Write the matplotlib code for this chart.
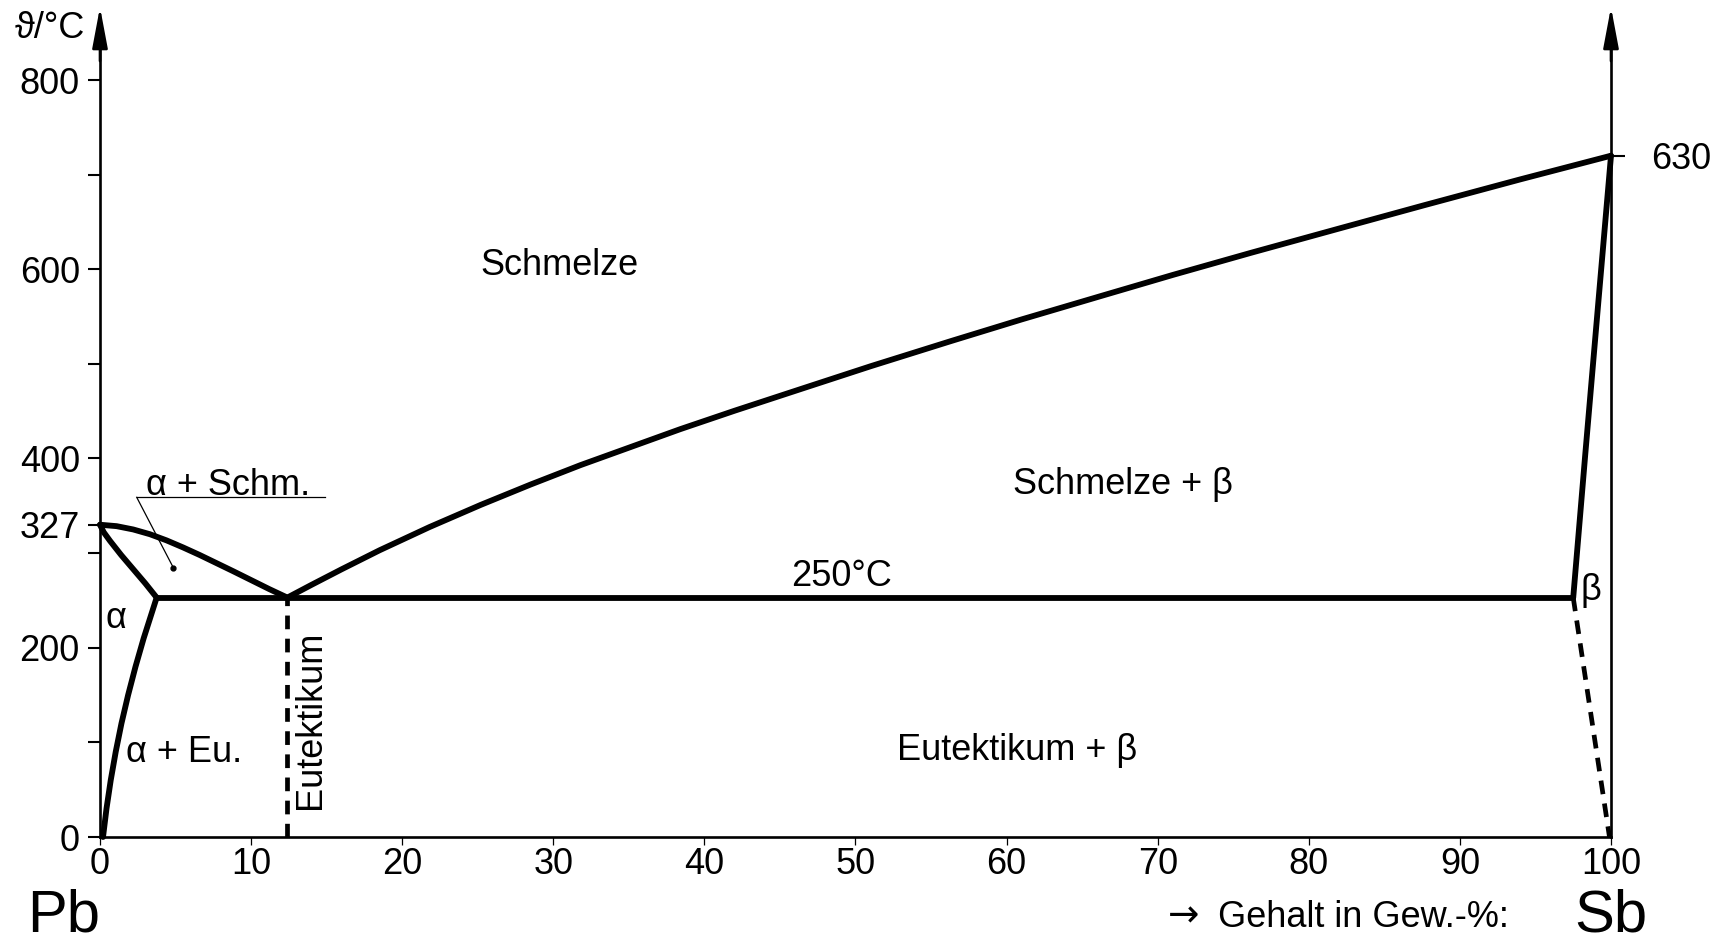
import matplotlib
matplotlib.use('Agg')
import matplotlib.pyplot as plt

plt.rcParams['font.family'] = ['Liberation Sans', 'DejaVu Sans']

# Zustandsdiagramm Pb-Sb (Temperaturskala wie im Bild, nicht massstaeblich)
x_ticks = [0, 10, 20, 30, 40, 50, 60, 70, 80, 90, 100]
y_ticks = [0, 200, 330, 400, 600, 800]
y_ticklabels = ['0', '200', '327', '400', '600', '800']
y_minor = [100, 300, 500, 700]
sb_tick = [720]
sb_ticklabel = ['630']

x_eut = 12.4
t_eut = 253

# Liquidus Pb-Seite
liq_pb_x = [0, 1.1, 2.2, 3.3, 4.4, 5.5, 6.6, 7.7, 8.8, 10, 11.2, 12.4]
liq_pb_y = [330, 328.5, 325, 320, 313.5, 306, 298, 289.5, 281, 271.5, 262, 253]
# Solidus alpha
sol_a_x = [0, 0.25, 0.66, 1.4, 2.2, 3.0, 3.75]
sol_a_y = [330, 322, 313, 298, 283, 268, 253]
# Loeslichkeitslinie alpha
solv_a_x = [3.75, 3.49, 2.89, 2.35, 1.86, 1.42, 1.04, 0.71, 0.43, 0.2]
solv_a_y = [253, 240, 210, 180, 150, 120, 90, 60, 30, 0]
# Liquidus Sb-Seite
liq_sb_x = [12.4, 14, 16, 18.5, 21.8, 25.2, 28.5, 31.8, 35.1, 38.4, 42, 46.3,
            51, 56.3, 61, 66.2, 71, 76.2, 82, 87.6, 94, 100]
liq_sb_y = [253, 266.5, 283, 303, 327.5, 351, 372.5, 393, 412, 431, 450.5, 473,
            497.5, 524, 547, 571.5, 594, 617.5, 643, 667.5, 695, 720]
# Solidus beta
sol_b_x = [97.5, 98.3, 99.15, 100]
sol_b_y = [253, 405, 563, 720]
# Loeslichkeitslinie beta (gestrichelt)
solv_b_x = [97.5, 99.9]
solv_b_y = [253, 0]
# Eutektikale
eut_x = [3.75, 97.5]
eut_y = [t_eut, t_eut]

px_x = 15.11
px_y = 0.94625
fig = plt.figure(figsize=(17.29, 9.38), dpi=100)
ax = fig.add_axes([0, 0, 1, 1])
ax.set_xlim(-100 / px_x, (1729 - 100) / px_x)
ax.set_ylim(-(938 - 837) / px_y, 837 / px_y)

ax.spines['top'].set_visible(False)
for s, pos, b in [('left', 0, (0, 860)), ('right', 100, (0, 860)), ('bottom', 0, (0, 100))]:
    ax.spines[s].set_position(('data', pos))
    ax.spines[s].set_bounds(*b)
    ax.spines[s].set_linewidth(1.9)

ax.set_xticks(x_ticks)
ax.set_yticks(y_ticks, y_ticklabels)
ax.set_yticks(y_minor, minor=True)
ax.tick_params(axis='y', which='both', direction='out', length=8.5, width=1.5, labelsize=26, pad=6)
ax.tick_params(axis='x', direction='out', length=6, width=0.9, labelsize=26, pad=1)

xl = ax.get_xlim()
sec = ax.secondary_yaxis((100 - xl[0]) / (xl[1] - xl[0]))
sec.set_yticks(sb_tick, sb_ticklabel)
sec.tick_params(direction='out', length=10, width=1.5, labelsize=26, pad=19)
for s in sec.spines.values():
    s.set_visible(False)

# Pfeile an den Temperaturachsen
for xa in [0, 100]:
    ax.annotate('', xy=(xa, 877), xytext=(xa, 820),
                arrowprops=dict(arrowstyle='-|>,head_length=2.5,head_width=0.47',
                                color='black', lw=1.9, shrinkA=0, shrinkB=0, mutation_scale=10))

lw = 4.2
kw = dict(color='black', lw=lw, solid_capstyle='round', solid_joinstyle='round', clip_on=False)
ax.plot(liq_pb_x, liq_pb_y, **kw)
ax.plot(sol_a_x, sol_a_y, **kw)
ax.plot(solv_a_x, solv_a_y, **kw)
ax.plot(liq_sb_x, liq_sb_y, **kw)
ax.plot(sol_b_x, sol_b_y, **kw)
ax.plot(eut_x, eut_y, **kw)
ax.plot([x_eut, x_eut], [0, t_eut], color='black', lw=3.4, linestyle=(0, (2.9, 2.0)))
ax.plot(solv_b_x, solv_b_y, color='black', lw=3.4, linestyle=(0, (2.9, 2.0)))

fs = 26
ax.text(-1.0, 859, 'ϑ/°C', ha='right', va='center_baseline', fontsize=fs)
ax.text(30.4, 608.6, 'Schmelze', ha='center', va='center_baseline', fontsize=fs)
ax.text(67.7, 376.6, 'Schmelze + β', ha='center', va='center_baseline', fontsize=fs)
ax.text(8.45, 375.5, 'α + Schm.', ha='center', va='center_baseline', fontsize=fs)
ax.plot([2.43, 14.9], [359, 359], color='black', lw=0.9)
ax.plot([2.43, 4.85], [359, 284.7], color='black', lw=0.9)
ax.plot([4.85], [284.7], 'o', color='black', ms=3.5)
ax.text(49.1, 279.6, '250°C', ha='center', va='center_baseline', fontsize=fs)
ax.text(98.68, 260.3, 'β', ha='center', va='center', fontsize=fs)
ax.text(1.03, 230.4, 'α', ha='center', va='center', fontsize=fs)
ax.text(5.56, 94, 'α + Eu.', ha='center', va='center_baseline', fontsize=fs)
ax.text(13.9, 123.7, 'Eutektikum', rotation=90, ha='center', va='center', fontsize=fs)
ax.text(60.67, 95.7, 'Eutektikum + β', ha='center', va='center_baseline', fontsize=fs)
ax.text(-2.43, -99.5, 'Pb', ha='center', va='baseline', fontsize=43)
ax.text(99.97, -99.5, 'Sb', ha='center', va='baseline', fontsize=43)
ax.text(70.7, -94.8, '→', ha='left', va='baseline', fontsize=27, family='DejaVu Sans')
ax.text(74.0, -94.8, 'Gehalt in Gew.-%:', ha='left', va='baseline', fontsize=fs)

fig.savefig('out.png', dpi=100)
